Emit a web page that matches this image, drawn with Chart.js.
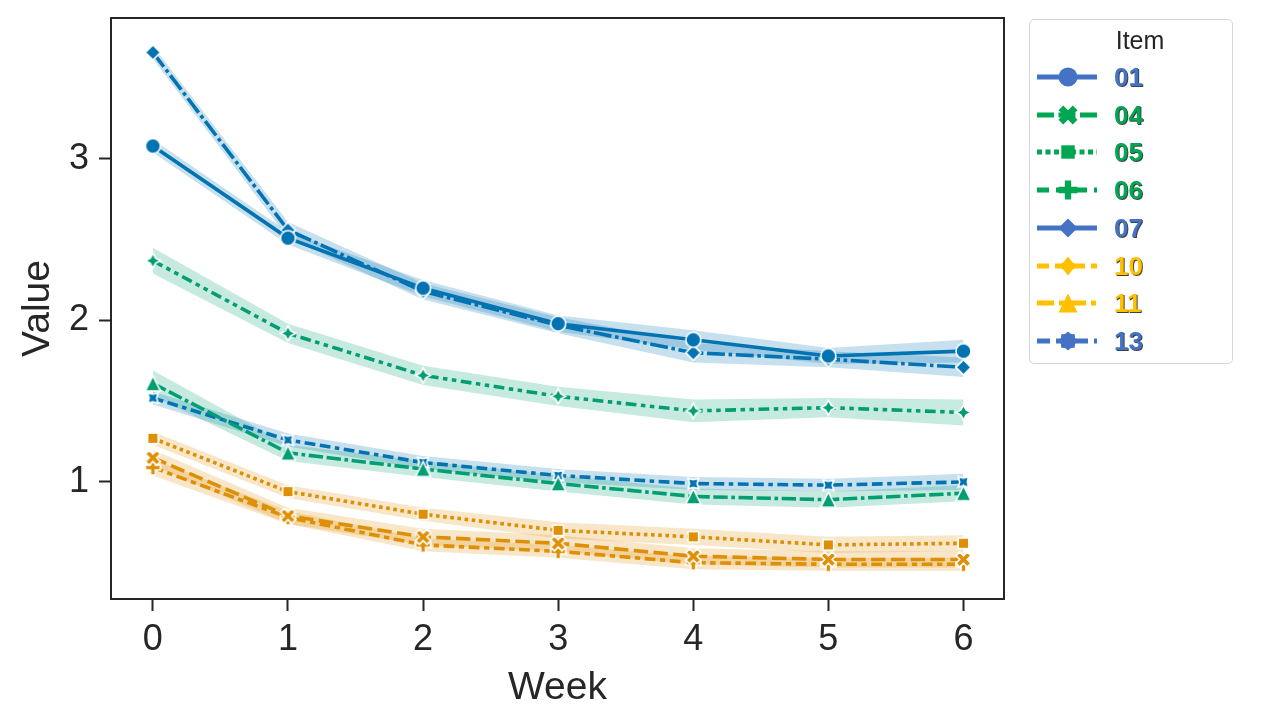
<!DOCTYPE html>
<html><head><meta charset="utf-8">
<script src="https://cdn.jsdelivr.net/npm/chart.js@4.4.1/dist/chart.umd.min.js"></script>
<style>
html,body{margin:0;padding:0;background:#fff;}
body{width:1280px;height:720px;overflow:hidden;position:relative;font-family:"Liberation Sans",Arial,sans-serif;}
#c{position:absolute;left:0;top:0;}
#legend{position:absolute;left:1029px;top:19px;width:204px;height:345px;border:1.5px solid #d6d6d6;border-radius:5px;box-sizing:border-box;background:#fff;}
#legend .title{position:absolute;left:0;width:100%;text-align:center;top:6px;font-size:25px;color:#262626;padding-left:18px;box-sizing:border-box;}
#legend .row{position:absolute;left:0;height:30px;width:100%;}
#legend .row svg{position:absolute;left:5px;top:0;}
#legend .row span{position:absolute;left:84px;top:0;line-height:30px;font-size:26px;font-weight:bold;text-shadow:1px 1px 0 rgba(0,0,0,0.75);}
</style>
</head><body>
<canvas id="c" width="1280" height="720"></canvas>
<div id="legend"></div>
<script>
// ---------- data ----------
const weeks = [0, 1, 2, 3, 4, 5, 6];
const items = ['01', '04', '05', '06', '07', '10', '11', '13'];
const v01 = [3.08, 2.51, 2.20, 1.98, 1.88, 1.78, 1.81];
const v04 = [1.15, 0.79, 0.66, 0.62, 0.54, 0.52, 0.52];
const v05 = [1.27, 0.94, 0.80, 0.70, 0.66, 0.61, 0.62];
const v06 = [1.09, 0.78, 0.61, 0.57, 0.50, 0.49, 0.49];
const v07 = [3.66, 2.56, 2.18, 1.97, 1.80, 1.76, 1.71];
const v10 = [2.37, 1.92, 1.66, 1.53, 1.44, 1.46, 1.43];
const v11 = [1.61, 1.18, 1.08, 0.99, 0.91, 0.89, 0.93];
const v13 = [1.52, 1.26, 1.12, 1.04, 0.99, 0.98, 1.00];
// half-widths of the confidence bands
const ci01 = [0.04, 0.04, 0.05, 0.05, 0.06, 0.05, 0.07];
const ci04 = [0.05, 0.05, 0.05, 0.05, 0.05, 0.05, 0.05];
const ci05 = [0.04, 0.04, 0.04, 0.05, 0.05, 0.05, 0.05];
const ci06 = [0.05, 0.04, 0.04, 0.04, 0.04, 0.04, 0.04];
const ci07 = [0.04, 0.05, 0.05, 0.05, 0.06, 0.05, 0.06];
const ci10 = [0.08, 0.06, 0.06, 0.06, 0.07, 0.06, 0.08];
const ci11 = [0.08, 0.05, 0.05, 0.05, 0.05, 0.05, 0.05];
const ci13 = [0.04, 0.04, 0.04, 0.04, 0.04, 0.04, 0.05];
const yTicks = [1, 2, 3];
const values = [v01, v04, v05, v06, v07, v10, v11, v13];
const cis = [ci01, ci04, ci05, ci06, ci07, ci10, ci11, ci13];

// ---------- styles ----------
const BLUE = '#0173b2', ORANGE = '#de8f05', GREEN = '#029e73';
const plotColors = [BLUE, ORANGE, ORANGE, ORANGE, BLUE, GREEN, GREEN, BLUE];
const markers = ['circle', 'X', 'square', 'P', 'diamond', 'star4', 'tri', 'star4x'];
const dashUnits = [[], [4, 1.5], [1, 1], [3, 1.25, 1.5, 1.25], [5, 1, 1, 1],
  [3, 1.25, 1.25, 1.25, 1.25, 1.25], [4, 1, 4, 1, 1, 1], [3, 1.25, 3, 1.25, 1.25, 1.25]];
const LW = 3.6;
const MR = 7.5;
const LBLUE = '#4472C4', LGREEN = '#00A651', LYELLOW = '#FFC000';
const legendColors = [LBLUE, LGREEN, LGREEN, LGREEN, LBLUE, LYELLOW, LYELLOW, LBLUE];
const legendMarkers = ['circle', 'X', 'square', 'P', 'diamond', 'star4s', 'tri', 'blob'];
const legendDash = ['', '17 4.5', '5 3.5', '12 7', '', '12 6', '17 5 5 5', '13 6'];
const TEXT = '#262626';
const FONT = '"Liberation Sans", Arial, sans-serif';

function shapePts(shape, r) {
  let pts = [];
  const star = (n, rOut, rIn, rot) => {
    const out = [];
    for (let i = 0; i < 2 * n; i++) {
      const a = Math.PI / 2 + rot + i * Math.PI / n;
      const rr = i % 2 === 0 ? rOut : rIn;
      out.push([rr * Math.cos(a), -rr * Math.sin(a)]);
    }
    return out;
  };
  switch (shape) {
    case 'X':
      pts = [[-1,-2],[0,-1],[1,-2],[2,-1],[1,0],[2,1],[1,2],[0,1],[-1,2],[-2,1],[-1,0],[-2,-1]].map(p => [p[0]*r/2, p[1]*r/2]); break;
    case 'P':
      pts = [[-1,-3],[1,-3],[1,-1],[3,-1],[3,1],[1,1],[1,3],[-1,3],[-1,1],[-3,1],[-3,-1],[-1,-1]].map(p => [p[0]*r/3, p[1]*r/3]); break;
    case 'square': { const h = r * Math.SQRT1_2; pts = [[-h,-h],[h,-h],[h,h],[-h,h]]; break; }
    case 'diamond': pts = [[0,-r],[r,0],[0,r],[-r,0]]; break;
    case 'tri': pts = [[0,-r],[-r,r],[r,r]]; break;
    case 'star4': pts = star(4, r, r * 0.5, 0); break;
    case 'star4s': pts = star(4, r, r * 0.62, 0); break;
    case 'star4x': pts = star(4, r, r * 0.5, Math.PI / 4); break;
    case 'blob': pts = star(8, r, r * 0.8, 0); break;
  }
  return pts;
}

function markerCanvas(shape, color, r) {
  const size = Math.ceil(2 * r + 6);
  const c = document.createElement('canvas');
  c.width = size; c.height = size;
  const ctx = c.getContext('2d');
  ctx.translate(size / 2, size / 2);
  ctx.beginPath();
  if (shape === 'circle') ctx.arc(0, 0, r, 0, Math.PI * 2);
  else { const p = shapePts(shape, r); ctx.moveTo(p[0][0], p[0][1]); p.slice(1).forEach(q => ctx.lineTo(q[0], q[1])); ctx.closePath(); }
  ctx.fillStyle = color; ctx.fill();
  ctx.lineWidth = 1.6; ctx.strokeStyle = '#ffffff'; ctx.lineJoin = 'miter'; ctx.stroke();
  return c;
}

// ---------- datasets ----------
const datasets = [];
items.forEach((it, i) => {
  const vals = values[i], ci = cis[i], col = plotColors[i];
  const base = datasets.length;
  datasets.push({ label: it + ' upper', data: weeks.map((w, k) => ({ x: w, y: vals[k] + ci[k] })),
    borderWidth: 0, pointRadius: 0, fill: false, order: 5, backgroundColor: col + '40', borderColor: 'transparent' });
  datasets.push({ label: it + ' lower', data: weeks.map((w, k) => ({ x: w, y: vals[k] - ci[k] })),
    borderWidth: 0, pointRadius: 0, fill: base, order: 5, backgroundColor: col + '38', borderColor: 'transparent' });
  datasets.push({ label: it, data: weeks.map((w, k) => ({ x: w, y: vals[k] })),
    borderColor: col, borderWidth: LW, borderDash: dashUnits[i].map(d => d * LW), borderCapStyle: 'butt',
    tension: 0, fill: false, order: 1,
    pointStyle: markerCanvas(markers[i], col, MR), pointRadius: MR, pointHoverRadius: MR });
});

const frame = {
  id: 'frame',
  afterDatasetsDraw(chart) {
    const a = chart.chartArea, ctx = chart.ctx;
    ctx.save(); ctx.strokeStyle = TEXT; ctx.lineWidth = 2;
    ctx.strokeRect(a.left, a.top, a.right - a.left, a.bottom - a.top);
    ctx.restore();
  }
};

new Chart(document.getElementById('c'), {
  type: 'line',
  data: { datasets },
  plugins: [frame],
  options: {
    responsive: false, animation: false, devicePixelRatio: 1,
    layout: { padding: { left: 0, right: 276, top: 18, bottom: 0 } },
    plugins: { legend: { display: false }, tooltip: { enabled: false } },
    scales: {
      x: {
        type: 'linear', min: -0.31, max: 6.30,
        afterBuildTicks: s => { s.ticks = weeks.map(v => ({ value: v })); },
        afterFit: s => { s.height = 121; s.paddingLeft = 0; s.paddingRight = 0; },
        grid: { display: true, drawOnChartArea: false, drawTicks: true, tickLength: 12, tickWidth: 2, tickColor: TEXT },
        border: { display: true, color: TEXT, width: 2 },
        ticks: { font: { family: FONT, size: 36 }, color: TEXT, padding: 7, maxRotation: 0, autoSkip: false },
        title: { display: true, text: 'Week', font: { family: FONT, size: 39 }, color: TEXT, padding: { top: 0, bottom: 8 } }
      },
      y: {
        type: 'linear', min: 0.275, max: 3.873,
        afterBuildTicks: s => { s.ticks = yTicks.map(v => ({ value: v })); },
        afterFit: s => { s.width = 111; s.paddingTop = 0; s.paddingBottom = 0; },
        grid: { display: true, drawOnChartArea: false, drawTicks: true, tickLength: 12, tickWidth: 2, tickColor: TEXT },
        border: { display: true, color: TEXT, width: 2 },
        ticks: { font: { family: FONT, size: 36 }, color: TEXT, padding: 10 },
        title: { display: true, text: 'Value', font: { family: FONT, size: 39 }, color: TEXT, padding: { top: 15, bottom: 0 } }
      }
    }
  }
});

// ---------- legend ----------
function svgMarker(shape, color, r, cx, cy) {
  if (shape === 'circle') return `<circle cx="${cx}" cy="${cy}" r="${r}" fill="${color}"/>`;
  const p = shapePts(shape, r).map(q => (cx + q[0]).toFixed(2) + ',' + (cy + q[1]).toFixed(2)).join(' ');
  return `<polygon points="${p}" fill="${color}"/>`;
}
const lg = document.getElementById('legend');
let html = '<div class="title">Item</div>';
items.forEach((it, i) => {
  const cy = 76 + i * 37.7 - 19 - 15;
  const col = legendColors[i];
  const dash = legendDash[i] ? `stroke-dasharray="${legendDash[i]}"` : '';
  html += `<div class="row" style="top:${cy.toFixed(1)}px"><svg width="66" height="30" viewBox="0 0 66 30">` +
    `<line x1="2" y1="15" x2="62" y2="15" stroke="${col}" stroke-width="5" ${dash}/>` +
    svgMarker(legendMarkers[i], col, 9.5, 33, 15) +
    `</svg><span style="color:${col}">${it}</span></div>`;
});
lg.innerHTML = html;
</script>
</body></html>
